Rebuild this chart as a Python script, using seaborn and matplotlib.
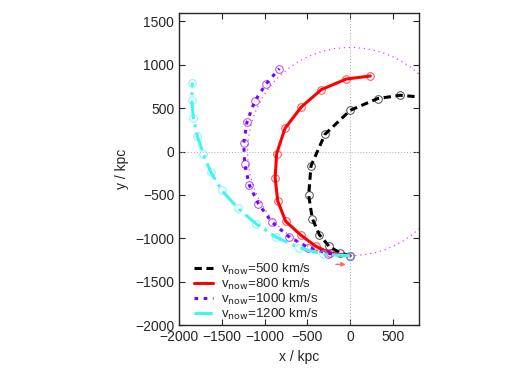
import numpy as np
import matplotlib
matplotlib.use('Agg')
import matplotlib.pyplot as plt
from matplotlib.patches import Circle
import seaborn as sns

# 궤적 데이터 (kpc)
x500 = [0, -120, -249, -362, -444, -486, -459, -296, 0, 320, 584, 800]
y500 = [-1200, -1168, -1091, -956, -772, -503, -166, 199, 476, 611, 649, 630]
x800 = [0, -237, -404, -576, -755, -848, -878, -860, -763, -572, -339, -47, 234]
y800 = [-1200, -1168, -1091, -964, -803, -569, -302, -23, 268, 514, 714, 836, 871]
x1000 = [0, -257, -491, -720, -918, -1075, -1180, -1234, -1245, -1207, -1117, -988, -829]
y1000 = [-1200, -1175, -1106, -979, -811, -599, -385, -146, 99, 341, 580, 775, 956]
x1200 = [0, -315, -603, -871, -1105, -1315, -1502, -1631, -1717, -1787, -1834, -1853, -1846]
y1200 = [-1200, -1183, -1106, -984, -829, -650, -446, -235, -31, 180, 392, 599, 795]

labels = ['500', '800', '1000', '1200']
r_orbit = 1200
arrow_x = [-200, -20]
arrow_y = -1300

sns.set_style('ticks')
plt.rcParams['font.family'] = ['Liberation Sans', 'DejaVu Sans']

fig = plt.figure(figsize=(5.3, 3.75), dpi=100)
ax = fig.add_axes([0.338, 0.133, 0.452, 0.833])

# 기준 원, 영점선
ax.add_patch(Circle((0, 0), r_orbit, fill=False, ec='#ff33ff', ls=(0, (1, 3)), lw=0.9))
ax.axhline(0, color='#aaaaaa', ls=(0, (1, 2)), lw=0.7)
ax.axvline(0, color='#aaaaaa', ls=(0, (1, 2)), lw=0.7)

series = [
    (x500, y500, 'black', (0, (2.4, 1.5))),
    (x800, y800, '#ff0000', '-'),
    (x1000, y1000, '#7a00ff', (0, (1.2, 1.8))),
    (x1200, y1200, '#44f4f4', (0, (6, 1.8, 1, 1.8))),
]
handles = []
for (xs, ys, c, ls), lab in zip(series, labels):
    sns.lineplot(x=xs, y=ys, sort=False, estimator=None, ax=ax, color=c, lw=2.2)
    ln = ax.get_lines()[-1]
    ln.set_linestyle(ls)
    ln.set_label(r'v$_{\rm now}$=' + lab + ' km/s')
    handles.append(ln)
    n = len(xs) if xs[-1] != 800 else len(xs) - 1
    ax.plot(xs[:n], ys[:n], 'o', mfc='none', mec=c, ms=5.5, mew=0.7, alpha=0.7)

ax.annotate('', xy=(arrow_x[1], arrow_y), xytext=(arrow_x[0], arrow_y),
            arrowprops=dict(arrowstyle='-|>', color='#ff6666', lw=1, mutation_scale=6))

ax.set_xlim(-2000, 800)
ax.set_ylim(-2000, 1600)
ax.set_xticks(np.arange(-2000, 501, 500))
ax.set_yticks(np.arange(-2000, 1501, 500))
ax.tick_params(direction='in', top=True, right=True, length=4, width=0.8, labelsize=10)
for s in ax.spines.values():
    s.set_linewidth(1)
ax.set_xlabel('x / kpc', fontsize=10)
ax.set_ylabel('y / kpc', fontsize=10)

ax.legend(handles=handles, loc='lower left', bbox_to_anchor=(0.03, -0.015), frameon=False,
          fontsize=9.6, handlelength=1.4, handletextpad=0.6, labelspacing=0.0, borderaxespad=0.2)

fig.savefig('out.png', dpi=100)
